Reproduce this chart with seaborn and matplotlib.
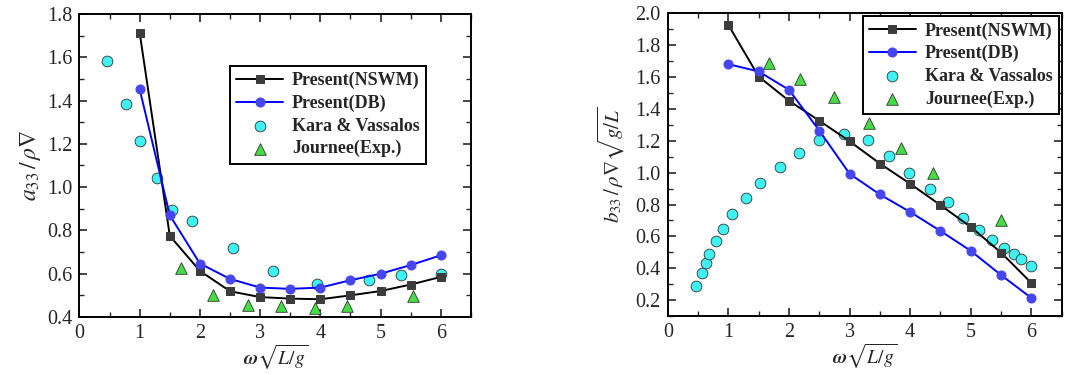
import matplotlib
matplotlib.use("Agg")
import matplotlib.pyplot as plt
import numpy as np
import seaborn as sns
from matplotlib.ticker import MultipleLocator

# ---- data ----
x_present = [1.0, 1.5, 2.0, 2.5, 3.0, 3.5, 4.0, 4.5, 5.0, 5.5, 6.0]

a33_nswm = [1.713, 0.775, 0.613, 0.519, 0.492, 0.485, 0.482, 0.500, 0.520, 0.550, 0.585]
a33_db = [1.452, 0.870, 0.647, 0.576, 0.536, 0.530, 0.536, 0.570, 0.600, 0.640, 0.685]
a33_kara_x = [0.46, 0.77, 1.01, 1.28, 1.54, 1.87, 2.55, 3.21, 3.95, 4.80, 5.34, 6.0]
a33_kara_y = [1.584, 1.384, 1.211, 1.043, 0.893, 0.844, 0.719, 0.613, 0.554, 0.573, 0.593, 0.600]
a33_exp_x = [1.69, 2.22, 2.80, 3.35, 3.91, 4.45, 5.54]
a33_exp_y = [0.626, 0.500, 0.457, 0.453, 0.443, 0.450, 0.499]

b33_nswm = [1.927, 1.603, 1.451, 1.326, 1.197, 1.057, 0.930, 0.796, 0.659, 0.498, 0.307]
b33_db = [1.681, 1.635, 1.520, 1.264, 0.993, 0.863, 0.753, 0.634, 0.509, 0.357, 0.213]
b33_kara_x = [0.467, 0.56, 0.627, 0.687, 0.797, 0.918, 1.066, 1.297, 1.528, 1.848,
              2.167, 2.497, 2.904, 3.305, 3.647, 3.987, 4.328, 4.62, 4.878, 5.132,
              5.357, 5.54, 5.715, 5.83, 5.995]
b33_kara_y = [0.286, 0.367, 0.432, 0.488, 0.569, 0.644, 0.738, 0.838, 0.938, 1.034,
              1.126, 1.203, 1.245, 1.203, 1.107, 0.997, 0.895, 0.815, 0.715, 0.642,
              0.577, 0.524, 0.490, 0.457, 0.415]
b33_exp_x = [1.672, 2.19, 2.75, 3.32, 3.85, 4.37, 5.5]
b33_exp_y = [1.687, 1.587, 1.472, 1.312, 1.155, 0.997, 0.700]

labels = ["Present(NSWM)", "Present(DB)", "Kara & Vassalos", "Journee(Exp.)"]

sns.set_style("ticks")
plt.rcParams["font.family"] = ["Liberation Serif", "DejaVu Serif"]
plt.rcParams["mathtext.fontset"] = "stix"

fig = plt.figure(figsize=(10.65, 3.74), dpi=100)
ax1 = fig.add_axes([0.0746, 0.1524, 0.3676, 0.8102])
ax2 = fig.add_axes([0.627, 0.155, 0.3699, 0.8094])


def draw(ax, nswm, db, kx, ky, ex, ey):
    sns.lineplot(x=x_present, y=nswm, ax=ax, color="black", lw=1.4, marker="s",
                 markersize=6, markerfacecolor="#3c3c3c", markeredgecolor="#3c3c3c",
                 label=labels[0], zorder=3)
    sns.lineplot(x=x_present, y=db, ax=ax, color="#0000ff", lw=1.4, marker="o",
                 markersize=6.5, markerfacecolor="#4646f0", markeredgecolor="#4646f0",
                 label=labels[1], zorder=3)
    sns.scatterplot(x=kx, y=ky, ax=ax, color="#3ef2f2", edgecolor="#333333",
                    linewidth=0.6, s=60, marker="o", label=labels[2], zorder=2)
    sns.scatterplot(x=ex, y=ey, ax=ax, color="#44dd44", edgecolor="#333333",
                    linewidth=0.6, s=70, marker="^", label=labels[3], zorder=2)
    ax.set_xlim(0, 6.5)
    ax.xaxis.set_major_locator(MultipleLocator(1))
    ax.xaxis.set_minor_locator(MultipleLocator(0.5))
    ax.yaxis.set_major_locator(MultipleLocator(0.2))
    ax.yaxis.set_minor_locator(MultipleLocator(0.1))
    ax.tick_params(direction="in", which="major", length=6, width=1.2,
                   top=True, right=True, labelsize=14.5, pad=5)
    ax.tick_params(direction="in", which="minor", length=3.5, width=1.0,
                   top=True, right=True)
    for sp in ax.spines.values():
        sp.set_linewidth(1.4)
        sp.set_color("black")
    ax.set_xlabel(r"$\boldsymbol{\omega}\sqrt{L/g}$", fontsize=14, labelpad=0)


def legend(ax, anchor, loc):
    leg = ax.legend(loc=loc, bbox_to_anchor=anchor, frameon=True, fancybox=False,
                    edgecolor="black", prop={"weight": "bold", "size": 13},
                    handlelength=2.6, borderpad=0.35, labelspacing=0.3,
                    handletextpad=0.5, borderaxespad=0.0)
    leg.get_frame().set_linewidth(1.4)
    leg.get_frame().set_alpha(1.0)


draw(ax1, a33_nswm, a33_db, a33_kara_x, a33_kara_y, a33_exp_x, a33_exp_y)
ax1.set_ylim(0.4, 1.8)
ax1.set_xticks(np.arange(0, 7, 1))
ax1.set_ylabel(r"$a_{33}\,/\,\rho\nabla$", fontsize=17, labelpad=3)
legend(ax1, (0.384, 0.829), "upper left")

draw(ax2, b33_nswm, b33_db, b33_kara_x, b33_kara_y, b33_exp_x, b33_exp_y)
ax2.set_ylim(0.1, 2.0)
ax2.set_ylabel(r"$b_{33}\,/\,\rho\nabla\sqrt{g/L}$", fontsize=15, labelpad=6)
legend(ax2, (0.993, 0.991), "upper right")

fig.savefig("out.png", dpi=100)
